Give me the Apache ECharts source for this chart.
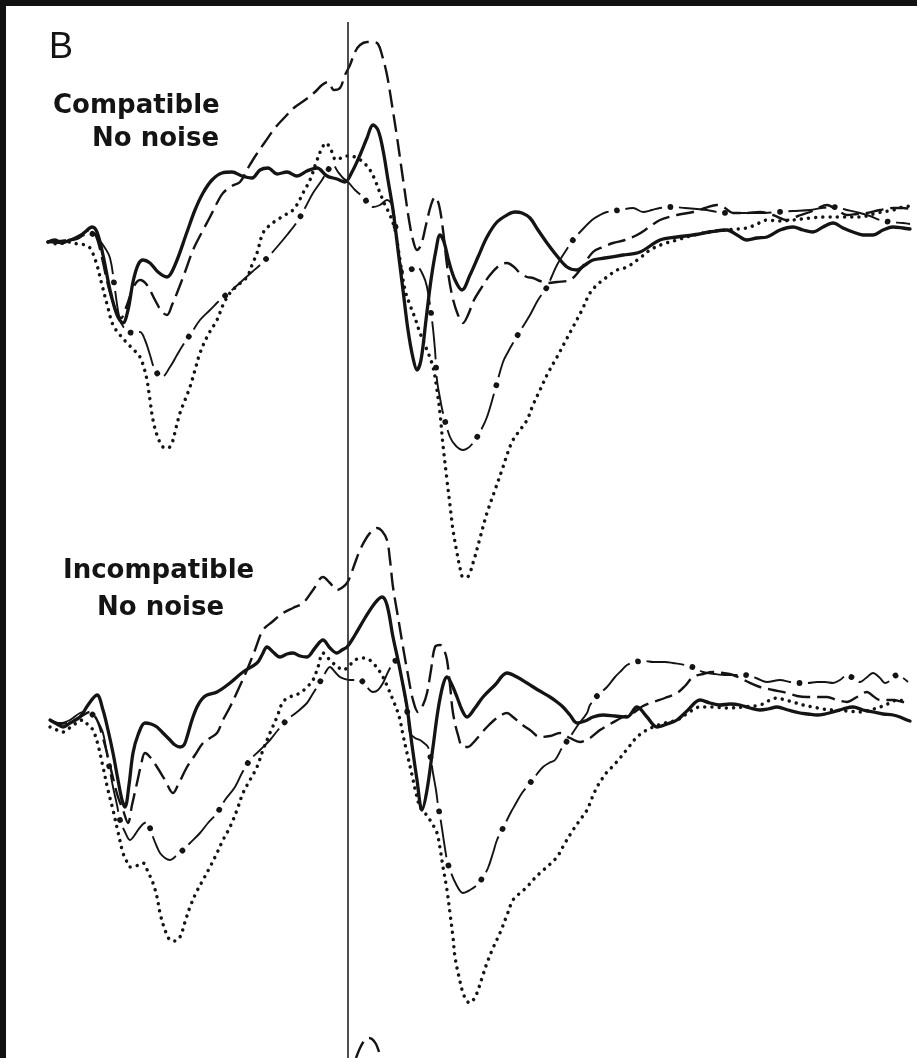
<!DOCTYPE html>
<html>
<head>
<meta charset="utf-8">
<script src="https://cdn.jsdelivr.net/npm/echarts@6/dist/echarts.min.js"></script>
<style>
  html, body { margin: 0; padding: 0; background: #111; width: 917px; height: 1058px; overflow: hidden; }
  #chart { position: absolute; left: 6px; top: 6px; width: 911px; height: 1052px; background: #fff; }
</style>
</head>
<body>
<div id="chart"></div>
<script>
// time in ms (0 = vertical marker), amplitude in µV (negative up)
const panelLabels = ["B", "Compatible", "No noise", "Incompatible", "No noise"];

const compSolid = [[-600,0.2],[-586,0],[-572,0.3],[-556,0],[-540,-0.2],[-526,-0.8],[-512,-1.3],[-502,-0.8],[-490,1.5],[-476,5.0],[-462,7.5],[-450,8.3],[-440,7.0],[-430,4.2],[-420,2.5],[-410,2.0],[-396,2.3],[-380,3.2],[-362,3.7],[-346,2.5],[-322,-0.8],[-306,-3.0],[-290,-4.7],[-272,-6.0],[-252,-6.7],[-232,-6.8],[-212,-6.4],[-192,-6.2],[-176,-7.0],[-160,-7.2],[-142,-6.6],[-122,-6.8],[-102,-6.4],[-82,-6.9],[-62,-7.2],[-42,-6.4],[-22,-6.1],[-6,-5.8],[8,-6.8],[24,-8.5],[38,-10.2],[50,-11.5],[60,-11.0],[70,-9.0],[80,-6.0],[90,-3.0],[100,1.0],[110,5.0],[120,9.0],[130,11.8],[138,13.0],[146,12.0],[156,8.0],[166,4.0],[176,1.0],[184,-0.5],[192,0.2],[202,2.2],[214,4.0],[228,5.0],[244,3.5],[260,1.7],[278,-0.3],[298,-1.8],[318,-2.5],[334,-2.8],[348,-2.7],[364,-2.2],[380,-1.0],[398,0.3],[418,1.6],[438,2.7],[458,3.0],[474,2.5],[490,2.0],[514,1.8],[550,1.5],[584,1.2],[624,0],[658,-0.3],[690,-0.5],[724,-0.8],[758,-1.0],[778,-0.5],[798,0],[818,-0.2],[838,-0.3],[864,-1.0],[890,-1.3],[910,-1.0],[930,-0.8],[950,-1.3],[970,-1.7],[990,-1.2],[1010,-0.8],[1030,-0.5],[1050,-0.5],[1070,-1.0],[1090,-1.3],[1110,-1.2],[1124,-1.1]];

const compDashed = [[-600,0.2],[-576,0.1],[-552,-0.1],[-532,-0.6],[-516,-1.0],[-504,-0.4],[-492,1.8],[-480,4.5],[-466,6.8],[-454,7.8],[-442,6.5],[-430,4.8],[-416,4.0],[-402,4.5],[-386,6.0],[-372,7.2],[-362,7.5],[-352,6.5],[-342,5.3],[-326,3.2],[-310,1.0],[-292,-0.8],[-276,-2.3],[-262,-3.7],[-250,-4.7],[-232,-5.4],[-216,-5.8],[-200,-7.2],[-184,-8.5],[-166,-9.8],[-146,-11.2],[-126,-12.3],[-106,-13.3],[-86,-14.0],[-66,-14.8],[-52,-15.5],[-40,-15.8],[-28,-15.0],[-16,-15.2],[-6,-16.5],[4,-17.5],[14,-18.8],[24,-19.5],[38,-19.8],[50,-19.8],[60,-19.6],[68,-18.5],[78,-16.5],[88,-13.5],[98,-10.3],[106,-7.5],[114,-4.7],[122,-2.0],[130,0],[138,1.0],[146,0.5],[156,-1.5],[166,-3.5],[174,-4.3],[182,-3.5],[190,-1.0],[198,2.5],[208,5.5],[220,7.5],[230,8.3],[240,7.5],[252,6.0],[264,5.0],[284,3.5],[304,2.5],[318,2.3],[332,2.7],[344,3.3],[358,3.7],[370,3.8],[384,4.1],[398,4.3],[418,4.2],[444,4.0],[464,3.0],[490,1.2],[510,0.7],[530,0.3],[554,0],[578,-0.5],[600,-1.2],[624,-2.0],[658,-2.5],[690,-2.8],[714,-3.2],[738,-3.5],[754,-3.2],[770,-2.7],[796,-2.7],[824,-2.8],[850,-2.5],[878,-2.0],[900,-2.4],[924,-2.8],[940,-3.2],[958,-3.5],[978,-3.0],[998,-2.5],[1018,-2.6],[1038,-2.7],[1064,-3.0],[1090,-3.2],[1110,-3.2],[1124,-3.1]];

const compDotted = [[-600,0.2],[-580,0.4],[-560,0.2],[-540,0.4],[-526,0.5],[-516,0.8],[-504,2.2],[-492,4.5],[-480,6.8],[-470,8.5],[-456,9.5],[-442,10.3],[-428,11.0],[-416,11.7],[-408,12.8],[-402,14.0],[-396,16.0],[-390,18.0],[-382,19.5],[-370,20.7],[-360,20.8],[-352,20.3],[-344,18.8],[-336,17.3],[-326,16.0],[-316,14.7],[-306,13.0],[-296,11.3],[-280,9.5],[-262,8.0],[-250,6.5],[-236,5.3],[-220,4.5],[-202,3.7],[-192,2.5],[-182,1.3],[-170,-0.7],[-156,-1.5],[-142,-2.0],[-126,-2.5],[-110,-3.0],[-100,-3.7],[-90,-4.7],[-76,-6.0],[-64,-7.7],[-52,-9.2],[-44,-9.7],[-34,-9.0],[-24,-8.0],[-14,-8.2],[-2,-8.4],[14,-8.3],[30,-7.8],[44,-7.0],[54,-6.0],[64,-4.7],[74,-3.5],[84,-2.5],[94,-1.0],[104,2.0],[114,5.0],[124,6.5],[134,7.8],[144,9.3],[158,11.0],[170,12.7],[178,15.0],[184,17.3],[190,20.5],[198,24.0],[204,26.5],[210,29.0],[218,31.3],[224,32.8],[230,33.7],[238,33.7],[250,32.3],[264,29.8],[278,27.3],[294,25.0],[310,22.7],[320,21.2],[330,20.0],[344,19.0],[358,18.0],[370,16.5],[384,15.0],[400,13.3],[418,11.7],[434,10.2],[450,8.7],[468,7.0],[484,5.3],[500,4.4],[518,3.7],[538,3.0],[558,2.7],[584,1.8],[604,1.0],[630,0.4],[658,0],[684,-0.4],[710,-0.7],[734,-0.9],[758,-1.0],[778,-1.1],[798,-1.2],[818,-1.6],[838,-2.0],[864,-1.9],[890,-2.0],[924,-2.2],[958,-2.3],[990,-2.3],[1024,-2.3],[1058,-2.7],[1090,-3.0],[1110,-3.3],[1124,-3.4]];

const compDashDot = [[-600,0.2],[-576,0.3],[-552,0],[-532,-0.4],[-516,-0.7],[-502,-0.2],[-490,0.5],[-476,1.8],[-466,5.0],[-456,8.0],[-444,9.0],[-430,9.3],[-416,9.2],[-406,10.0],[-396,11.5],[-386,13.0],[-372,13.7],[-356,12.7],[-342,11.5],[-330,10.5],[-312,9.2],[-296,8.0],[-276,7.0],[-256,6.0],[-232,5.0],[-210,4.0],[-192,3.2],[-176,2.5],[-160,1.7],[-142,0.7],[-122,-0.5],[-102,-1.8],[-86,-3.2],[-70,-4.7],[-52,-6.0],[-40,-7.0],[-30,-7.5],[-20,-6.8],[-10,-6.2],[0,-5.8],[14,-5.0],[30,-4.3],[40,-3.7],[50,-3.3],[64,-3.5],[78,-4.0],[88,-3.5],[96,-1.0],[104,2.2],[112,3.2],[124,3.0],[138,2.7],[150,3.5],[158,4.7],[168,8.0],[174,11.0],[178,14.0],[184,15.8],[190,17.3],[204,19.7],[216,20.6],[230,21.0],[240,20.8],[250,20.3],[264,19.2],[278,17.7],[294,15.0],[310,12.2],[320,11.2],[330,10.3],[348,8.8],[364,7.5],[380,6.0],[398,4.7],[408,3.6],[418,2.5],[434,1.2],[450,0],[468,-1.0],[488,-2.0],[504,-2.5],[518,-2.8],[544,-3.0],[570,-3.2],[590,-2.8],[608,-3.0],[624,-3.2],[648,-3.3],[674,-3.2],[698,-3.1],[718,-3.0],[738,-2.8],[758,-2.7],[784,-2.7],[810,-2.7],[834,-2.7],[858,-2.8],[890,-2.9],[924,-3.0],[948,-3.2],[970,-3.3],[998,-3.0],[1024,-2.7],[1044,-2.4],[1064,-2.0],[1084,-1.8],[1110,-1.7],[1124,-1.6]];

const incSolid = [[-596,0.2],[-582,0.6],[-570,0.9],[-556,0.5],[-536,-0.1],[-520,-1.3],[-502,-2.3],[-490,-0.8],[-480,1.2],[-470,3.5],[-460,6.2],[-452,8.2],[-446,8.9],[-438,6.7],[-430,3.5],[-420,1.7],[-406,0.5],[-394,0.6],[-382,0.9],[-370,1.5],[-356,2.2],[-346,2.7],[-336,2.9],[-328,2.7],[-322,1.9],[-312,0.2],[-302,-1.1],[-292,-1.9],[-282,-2.3],[-262,-2.6],[-236,-3.5],[-210,-4.6],[-182,-5.5],[-172,-6.3],[-162,-7.1],[-150,-6.6],[-136,-6.1],[-122,-6.4],[-110,-6.5],[-96,-6.2],[-82,-6.1],[-66,-7.0],[-50,-7.8],[-36,-7.0],[-22,-6.5],[-12,-6.8],[-2,-7.1],[14,-8.3],[34,-10.0],[54,-11.5],[68,-12.1],[78,-11.3],[90,-8.1],[100,-5.8],[108,-3.8],[118,-1.1],[128,2.7],[138,6.2],[148,9.2],[158,7.2],[170,2.9],[180,-0.8],[190,-3.3],[198,-4.1],[208,-3.3],[218,-2.1],[228,-0.8],[238,-0.1],[254,-1.0],[270,-2.1],[294,-3.3],[318,-4.5],[338,-4.1],[358,-3.5],[380,-2.8],[404,-2.1],[418,-1.6],[430,-1.1],[444,-0.3],[458,0.5],[474,0.3],[490,-0.1],[510,-0.3],[534,-0.2],[558,-0.1],[578,-1.1],[598,-0.1],[618,0.9],[638,0.6],[658,0.2],[680,-0.8],[704,-1.8],[724,-1.5],[744,-1.3],[764,-1.4],[784,-1.3],[804,-1.0],[824,-0.8],[840,-0.9],[858,-1.1],[880,-0.8],[904,-0.5],[920,-0.4],[938,-0.3],[954,-0.4],[970,-0.6],[990,-0.9],[1010,-1.1],[1030,-0.8],[1050,-0.6],[1070,-0.4],[1090,-0.3],[1104,-0.1],[1118,0.2],[1124,0.3]];

const incDashed = [[-596,0.2],[-576,0.6],[-556,0.4],[-536,-0.1],[-516,-0.6],[-502,0.2],[-492,1.7],[-482,3.5],[-470,6.0],[-460,7.9],[-450,9.2],[-440,10.5],[-432,8.7],[-422,6.5],[-414,4.7],[-406,3.5],[-396,3.9],[-382,4.9],[-366,6.2],[-350,7.5],[-340,6.7],[-322,4.9],[-306,3.7],[-290,2.5],[-276,2.0],[-262,1.5],[-250,0.2],[-236,-1.1],[-220,-2.8],[-202,-4.8],[-186,-6.8],[-170,-8.8],[-152,-9.6],[-130,-10.5],[-110,-11.0],[-90,-11.5],[-70,-12.8],[-50,-14.1],[-36,-13.5],[-22,-12.8],[-10,-13.1],[-2,-13.5],[4,-14.1],[14,-15.5],[24,-16.8],[38,-18.1],[50,-18.8],[58,-19.0],[68,-18.7],[78,-17.8],[84,-15.8],[90,-13.1],[100,-10.1],[110,-7.1],[120,-4.3],[130,-1.8],[140,-0.6],[150,-1.3],[158,-2.5],[166,-4.8],[174,-7.1],[184,-7.3],[192,-6.8],[198,-5.8],[204,-3.3],[210,-0.5],[220,1.7],[230,2.9],[240,2.9],[250,2.5],[264,1.7],[278,0.9],[298,0],[318,-0.5],[330,-0.1],[344,0.5],[364,1.2],[384,1.9],[404,1.8],[424,1.5],[444,2.0],[464,2.4],[484,2.0],[504,1.2],[528,0.5],[550,-0.1],[570,-0.5],[590,-1.2],[610,-1.6],[634,-2.0],[658,-2.5],[674,-3.2],[690,-4.1],[710,-4.4],[730,-4.6],[750,-4.5],[770,-4.3],[796,-3.7],[824,-3.1],[850,-2.8],[878,-2.5],[898,-2.2],[918,-2.1],[938,-2.1],[958,-2.1],[978,-1.8],[998,-1.6],[1018,-2.1],[1038,-2.6],[1050,-2.2],[1064,-1.8],[1090,-1.8],[1110,-1.6],[1124,-1.5]];

const incDotted = [[-596,0.9],[-582,1.2],[-570,1.4],[-552,0.8],[-530,0.2],[-520,0.7],[-510,1.2],[-500,2.7],[-490,4.9],[-480,7.2],[-470,9.2],[-460,11.4],[-450,13.5],[-442,14.4],[-436,14.9],[-424,14.8],[-410,14.5],[-400,15.4],[-390,16.5],[-382,17.9],[-376,19.5],[-366,21.2],[-356,22.2],[-346,22.3],[-336,21.9],[-326,20.4],[-316,18.9],[-304,17.5],[-290,16.2],[-276,14.9],[-262,13.5],[-250,12.2],[-236,10.9],[-222,9.2],[-210,7.5],[-196,6.2],[-182,4.9],[-170,3.2],[-156,1.5],[-142,-0.1],[-130,-1.6],[-116,-2.1],[-96,-2.5],[-82,-3.1],[-70,-3.8],[-60,-5.1],[-50,-6.5],[-40,-6.0],[-30,-5.5],[-20,-5.1],[-10,-4.8],[0,-5.1],[14,-5.8],[30,-6.0],[40,-5.9],[50,-5.5],[60,-4.9],[70,-4.1],[80,-3.0],[90,-1.8],[98,-0.8],[104,0.2],[110,1.7],[118,3.5],[128,5.7],[136,7.5],[144,8.9],[154,9.5],[164,10.2],[170,10.7],[178,11.5],[184,13.0],[190,14.9],[198,17.2],[204,19.5],[210,21.9],[214,23.9],[222,25.9],[230,27.5],[238,28.3],[244,28.5],[252,28.1],[258,27.5],[268,26.0],[278,24.5],[290,23.0],[304,21.5],[318,19.7],[330,18.2],[344,17.5],[358,16.9],[370,16.2],[384,15.5],[400,14.8],[418,13.9],[434,12.5],[450,11.2],[464,10.2],[478,9.2],[488,8.0],[498,6.9],[508,6.1],[518,5.4],[530,4.8],[544,4.0],[560,3.0],[578,1.9],[594,1.3],[610,0.9],[634,0.5],[658,0.2],[680,-0.5],[704,-1.1],[730,-1.1],[758,-1.0],[790,-1.1],[824,-1.3],[840,-1.7],[858,-2.0],[874,-1.8],[890,-1.6],[910,-1.3],[930,-1.1],[950,-0.9],[970,-0.8],[998,-0.7],[1024,-0.6],[1044,-0.8],[1064,-1.1],[1084,-1.5],[1098,-1.8],[1110,-1.7],[1118,-1.5]];

const incDashDot = [[-596,0.2],[-576,0.5],[-556,0.2],[-536,-0.5],[-522,-0.6],[-510,-0.3],[-500,0.4],[-490,1.5],[-480,4.2],[-470,6.9],[-462,8.7],[-456,10.2],[-446,11.4],[-436,12.2],[-428,11.8],[-420,11.2],[-410,10.6],[-402,10.4],[-396,11.0],[-390,11.9],[-382,12.9],[-376,13.5],[-366,14.0],[-356,14.2],[-344,13.8],[-330,13.2],[-316,12.5],[-296,11.5],[-280,10.5],[-262,9.5],[-246,8.2],[-226,6.9],[-212,5.5],[-196,4.2],[-176,3.2],[-156,2.2],[-140,1.2],[-122,0.2],[-102,-0.6],[-82,-1.5],[-72,-2.3],[-62,-3.1],[-50,-4.1],[-36,-5.1],[-26,-4.6],[-16,-4.1],[-6,-3.9],[4,-3.8],[14,-3.8],[24,-3.8],[36,-3.2],[50,-2.6],[60,-2.8],[70,-3.5],[80,-4.6],[90,-5.5],[98,-5.8],[106,-4.3],[114,-2.1],[120,-0.1],[124,1.5],[134,2.0],[144,2.2],[152,2.5],[160,2.9],[166,4.2],[170,5.5],[176,7.2],[180,8.7],[186,10.4],[192,12.4],[198,14.2],[204,15.2],[216,16.6],[230,17.5],[244,17.2],[258,16.7],[270,15.9],[280,15.0],[290,13.5],[298,12.2],[308,11.2],[318,10.2],[326,9.4],[334,8.7],[348,7.5],[364,6.5],[378,5.6],[390,4.9],[402,4.5],[414,4.2],[428,3.0],[444,1.9],[460,0.7],[478,-0.5],[484,-1.3],[500,-2.3],[518,-3.1],[534,-4.1],[548,-4.8],[558,-5.3],[574,-5.6],[594,-5.7],[610,-5.6],[634,-5.6],[650,-5.5],[674,-5.3],[694,-5.0],[710,-4.6],[734,-4.4],[758,-4.3],[778,-4.3],[794,-4.3],[816,-4.0],[838,-3.6],[864,-3.8],[884,-3.6],[900,-3.5],[920,-3.5],[938,-3.6],[954,-3.6],[970,-3.5],[984,-3.8],[998,-4.3],[1010,-4.0],[1024,-3.6],[1036,-4.0],[1050,-4.5],[1064,-4.0],[1074,-3.5],[1086,-3.8],[1098,-4.3],[1110,-4.0],[1120,-3.6]];

// start of the next panel (only the tip of its dashed wave is visible)
const nextDashed = [[16,-17.2],[24,-18.2],[32,-18.9],[40,-19.2],[48,-19.1],[56,-18.6],[62,-17.8],[66,-17.0]];

const INK = '#141414';
const X_MIN = -684, X_MAX = 1138;

function solid(data, g) {
  return { type: 'line', xAxisIndex: g, yAxisIndex: g, data, showSymbol: false, smooth: 0.35, silent: true,
    lineStyle: { color: INK, width: 3.3, cap: 'round', join: 'round' } };
}
function dashed(data, g) {
  return { type: 'line', xAxisIndex: g, yAxisIndex: g, data, showSymbol: false, smooth: 0.35, silent: true,
    lineStyle: { color: INK, width: 2.4, type: [18, 7], cap: 'butt', join: 'round' } };
}
function dotted(data, g) {
  return { type: 'line', xAxisIndex: g, yAxisIndex: g, data, showSymbol: false, smooth: 0.35, silent: true,
    lineStyle: { color: INK, width: 3.5, type: [0.01, 7.2], cap: 'round' } };
}
function dashDot(data, g) {
  return [
    { type: 'line', xAxisIndex: g, yAxisIndex: g, data, showSymbol: false, smooth: 0.35, silent: true,
      lineStyle: { color: INK, width: 1.9, type: [38, 17], cap: 'butt', join: 'round' } },
    { type: 'line', xAxisIndex: g, yAxisIndex: g, data, showSymbol: false, smooth: 0.35, silent: true,
      lineStyle: { color: INK, width: 5.8, type: [0.01, 54.99], dashOffset: 8.5, cap: 'round' } }
  ];
}

const chart = echarts.init(document.getElementById('chart'), null, { renderer: 'canvas' });

const grids = [
  { left: 0, right: 0, top: 0, bottom: 0 },
  { left: 0, right: 0, top: 0, bottom: 0 },
  { left: 0, right: 0, top: 16, bottom: 0 }
];
const yRanges = [[-23.4, 81.8], [-71.2, 34], [-120.8, -17.2]];

const series = [
  solid(compSolid, 0), dashed(compDashed, 0), dotted(compDotted, 0), ...dashDot(compDashDot, 0),
  solid(incSolid, 1), dashed(incDashed, 1), dotted(incDotted, 1), ...dashDot(incDashDot, 1),
  Object.assign(dashed(nextDashed, 2), {
    markLine: { silent: true, symbol: 'none', label: { show: false },
      lineStyle: { color: '#222', width: 1.6, type: 'solid' }, data: [{ xAxis: 0 }] }
  })
];

const labelFont = 'bold 26px "DejaVu Sans", sans-serif';

chart.setOption({
  animation: false,
  backgroundColor: '#ffffff',
  grid: grids,
  xAxis: grids.map((_, i) => ({ type: 'value', gridIndex: i, min: X_MIN, max: X_MAX, show: false })),
  yAxis: yRanges.map((r, i) => ({ type: 'value', gridIndex: i, min: r[0], max: r[1], inverse: true, show: false })),
  graphic: [
    { type: 'text', left: 43, top: 24, style: { text: panelLabels[0], font: '36px "Liberation Sans", sans-serif', fill: INK } },
    { type: 'text', left: 47, top: 87, style: { text: panelLabels[1], font: labelFont, fill: INK } },
    { type: 'text', left: 86, top: 120, style: { text: panelLabels[2], font: labelFont, fill: INK } },
    { type: 'text', left: 57, top: 552, style: { text: panelLabels[3], font: labelFont, fill: INK } },
    { type: 'text', left: 91, top: 589, style: { text: panelLabels[4], font: labelFont, fill: INK } }
  ],
  series
});
</script>
</body>
</html>
